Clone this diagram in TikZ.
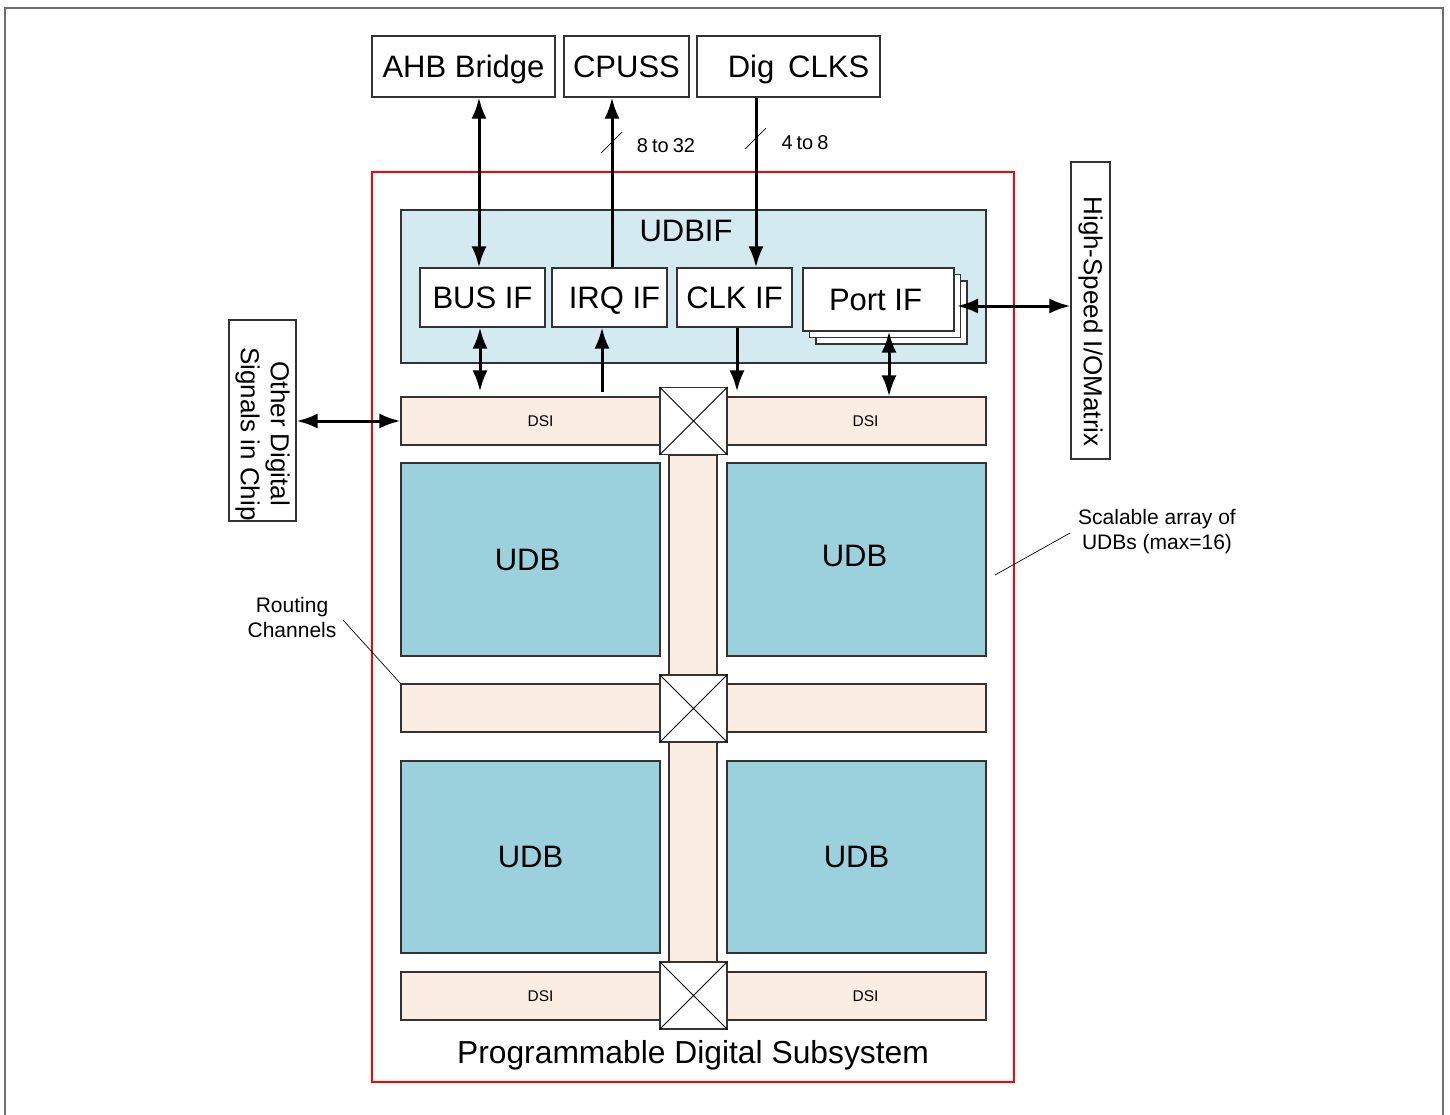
\documentclass[tikz,border=0pt]{standalone}
\usepackage{fontspec}
\setmainfont{Liberation Sans}
\usetikzlibrary{arrows.meta,calc}
\definecolor{ifblue}{RGB}{210,234,240}
\definecolor{udbblue}{RGB}{155,208,221}
\definecolor{dsipeach}{RGB}{252,237,226}
\definecolor{framegray}{RGB}{110,110,110}
\begin{document}
\begin{tikzpicture}[x=1pt,y=-1pt,
  box/.style={draw=black!80, line width=1.1pt, fill=white, inner sep=0pt, text height=22pt, text depth=0pt, font=\fontsize{31}{37}\selectfont},
  chan/.style={draw=black!80, line width=1.1pt, fill=dsipeach, inner sep=0pt, font=\fontsize{15.5}{18}\selectfont},
  udbbox/.style={draw=black!80, line width=1.1pt, fill=udbblue, inner sep=0pt, font=\fontsize{31}{37}\selectfont},
  xbox/.style={draw=black!80, line width=1.1pt, fill=white, inner sep=0pt, minimum width=67pt, minimum height=67pt},
  big/.style={inner sep=0pt, font=\fontsize{31}{37}\selectfont},
  small/.style={inner sep=0pt, font=\fontsize{20}{24}\selectfont},
  note/.style={inner sep=0pt, align=center, font=\fontsize{21}{25}\selectfont},
  tip/.tip={Latex[length=21pt,width=15pt]},
  uni/.style={line width=3pt, -tip},
  bi/.style={line width=3pt, tip-tip},
  thin/.style={line width=0.7pt, black}
]
\useasboundingbox (0,0) rectangle (1450,1115);
% outer frame (open at bottom)
\draw[framegray, line width=2pt] (5,1115) -- (5,8) -- (1443,8) -- (1443,1115);

% top boxes
\node[box, minimum width=183pt, minimum height=61pt] (ahb) at (463.5,66.5) {AHB Bridge};
\node[box, minimum width=125pt, minimum height=61pt] (cpuss) at (626.5,66.5) {CPUSS};
\node[box, minimum width=183pt, minimum height=61pt] (digclk) at (788.5,66.5) {\hspace*{20pt}Dig\hspace{0.45em}CLKS};

% programmable digital subsystem
\node[draw=red, line width=1.1pt, inner sep=0pt, minimum width=642pt, minimum height=910pt] (pds) at (693,627) {};
\node[inner sep=0pt, font=\fontsize{31.8}{37}\selectfont] (pdslabel) at (693,1055) {Programmable Digital Subsystem};

% UDBIF
\node[draw=black!80, line width=1.1pt, fill=ifblue, inner sep=0pt, minimum width=585pt, minimum height=153pt] (udbif) at (693.5,286.5) {};
\node[big] (udbiflabel) at (686,231) {UDBIF};
\node[box, minimum width=125pt, minimum height=59pt] (busif) at (482.5,297.5) {BUS IF};
\node[box, minimum width=115pt, minimum height=59pt] (irqif) at (609.5,297.5) {\hspace*{10pt}IRQ IF};
\node[box, minimum width=115pt, minimum height=59pt] (clkif) at (734.5,297.5) {CLK IF};
\node[box, minimum width=151pt, minimum height=63pt] (portif3) at (891.5,312.5) {};
\node[box, minimum width=151pt, minimum height=63pt] (portif2) at (885,306) {};
\node[box, minimum width=151pt, minimum height=63pt] (portif) at (878.5,299.5) {\hspace*{-6pt}Port IF};

% vertical routing channels
\node[chan, minimum width=48pt, minimum height=220pt] (vch1) at (693,565) {};
\node[chan, minimum width=48pt, minimum height=220pt] (vch2) at (693,852) {};

% horizontal channels
\node[chan, minimum width=259pt, minimum height=48pt] (dsi1) at (530.5,421) {\hspace*{20pt}DSI};
\node[chan, minimum width=259pt, minimum height=48pt] (dsi2) at (856.5,421) {\hspace*{18pt}DSI};
\node[chan, minimum width=259pt, minimum height=48pt] (rc1) at (530.5,708) {};
\node[chan, minimum width=259pt, minimum height=48pt] (rc2) at (856.5,708) {};
\node[chan, minimum width=259pt, minimum height=48pt] (dsi3) at (530.5,996) {\hspace*{20pt}DSI};
\node[chan, minimum width=259pt, minimum height=48pt] (dsi4) at (856.5,996) {\hspace*{18pt}DSI};

% UDBs
\node[udbbox, minimum width=259pt, minimum height=193pt] (udb1) at (530.5,559.5) {\hspace*{-6pt}\raisebox{-2pt}{UDB}};
\node[udbbox, minimum width=259pt, minimum height=193pt] (udb2) at (856.5,559.5) {\hspace*{-4pt}\raisebox{8pt}{UDB}};
\node[udbbox, minimum width=259pt, minimum height=192pt] (udb3) at (530.5,857) {UDB};
\node[udbbox, minimum width=259pt, minimum height=192pt] (udb4) at (856.5,857) {UDB};

% switch boxes
\foreach \n/\y in {xb1/421, xb2/708.5, xb3/995.5} {
  \node[xbox] (\n) at (693.5,\y) {};
  \draw[line width=0.8pt] (\n.north west) -- (\n.south east) (\n.north east) -- (\n.south west);
}

% side boxes
\node[draw=black!80, line width=1.1pt, inner sep=0pt, rotate=-90, minimum width=201pt, minimum height=67pt, align=center, font=\fontsize{26}{30}\selectfont] (ods) at (262.5,420.5) {\hspace*{27pt}Other Digital\\\hspace*{27pt}Signals in Chip};
\node[draw=black!80, line width=1.1pt, inner sep=0pt, rotate=-90, minimum width=297pt, minimum height=39pt, font=\fontsize{26}{30}\selectfont] (hsio) at (1090.5,310.5) {\hspace*{22pt}High-Speed I/OMatrix};

% column coordinates
\coordinate (cA) at (479,0);
\coordinate (cB) at (612,0);
\coordinate (cC) at (756,0);
\coordinate (cD) at (480,0);
\coordinate (cE) at (602,0);
\coordinate (cF) at (737,0);
\coordinate (cG) at (889,0);
\coordinate (rP) at (957,306);
\coordinate (rO) at (0,421);

% connectors top
\draw[bi] (cA |- ahb.south) -- (cA |- busif.north);
\draw[uni] (cB |- irqif.north) -- (cB |- cpuss.south);
\draw[uni] (cC |- digclk.south) -- (cC |- clkif.north);

% connectors lower
\draw[bi] (cD |- busif.south) -- ($(cD |- dsi1.north)+(0,-5)$);
\draw[uni] ($(cE |- dsi1.north)+(0,-4)$) -- (cE |- irqif.south);
\draw[uni] (cF |- clkif.south) -- ($(cF |- dsi2.north)+(0,-5)$);
\draw[bi] (cG |- portif.south) -- (cG |- dsi2.north);
\draw[bi] (rP) -- (rP -| hsio.south);
\draw[bi] (rO -| ods.north) -- (rO -| dsi1.west);

% bus width marks
\coordinate (s1) at (612,143);
\coordinate (s2) at (756,139);
\draw[thin] ($(s1)+(-11,10)$) -- ($(s1)+(10,-11)$);
\draw[thin] ($(s2)+(-11,10)$) -- ($(s2)+(10,-11)$);
\node[small] (w1) at (666,146) {8\hspace{0.2em}to\hspace{0.2em}32};
\node[small] (w2) at (805,143) {4\hspace{0.2em}to\hspace{0.2em}8};

% annotations
\node[note] (scal) at (1157,532) {Scalable array of\\UDBs (max=16)};
\coordinate (scalend) at (995,575);
\draw[thin] (1070,533) -- (scalend);
\node[note] (rout) at (292,617) {Routing\\Channels};
\draw[thin] (343,620) -- (rc1.north west);
\end{tikzpicture}
\end{document}
